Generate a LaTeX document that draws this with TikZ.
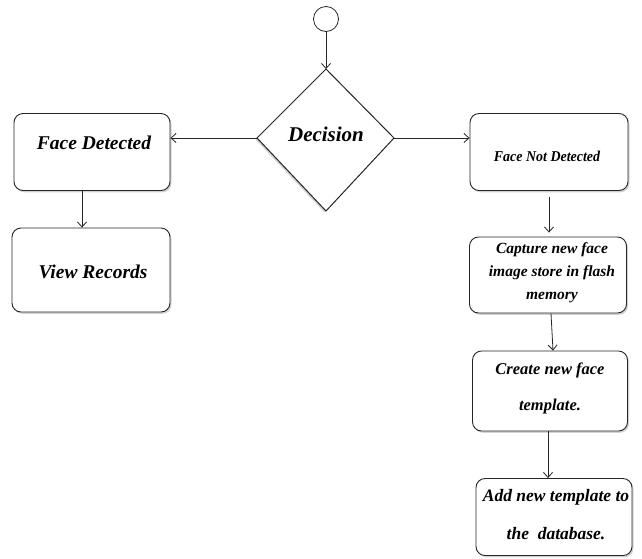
\documentclass[tikz,border=0pt]{standalone}
\usepackage{fontspec}
\setmainfont{Liberation Serif}
\usetikzlibrary{shapes.geometric,shadows,arrows.meta}
\begin{document}
\begin{tikzpicture}[x=1pt,y=-1pt,
  box/.style={draw=black!85,line width=0.9pt,rounded corners=9pt,fill=white,
    drop shadow={shadow xshift=1.5pt,shadow yshift=-1.8pt,opacity=0.35}},
  lbl/.style={font=\bfseries\itshape,align=center,inner sep=0pt},
  conn/.style={draw=black!85,line width=0.8pt,-{Straight Barb[length=5pt,width=9pt]}}]
\useasboundingbox (0,0) rectangle (642,558);
% start circle
\node[circle,draw=black!85,line width=0.8pt,minimum size=25pt,inner sep=0pt] (start) at (326,19) {};
% decision diamond
\coordinate (dt) at (326,69);
\coordinate (dl) at (257,138);
\coordinate (dr) at (394,138);
\coordinate (db) at (326,211);
\draw[draw=black!85,line width=1pt,fill=white,
  drop shadow={shadow xshift=-1.5pt,shadow yshift=-1.5pt,opacity=0.35}]
  (dt) -- (dr) -- (db) -- (dl) -- cycle;
\node[lbl,font=\bfseries\itshape\fontsize{21}{24}\selectfont] (dec) at (326,134) {Decision};
% boxes
\node[box,minimum width=156pt,minimum height=77pt] (fd) at (92,152) {};
\node[lbl,font=\bfseries\itshape\fontsize{19.5}{22}\selectfont] (fdt) at (94,143) {Face Detected};
\node[box,minimum width=158pt,minimum height=84pt] (vr) at (91,270) {};
\node[lbl,font=\bfseries\itshape\fontsize{19.5}{22}\selectfont] (vrt) at (93,272) {View Records};
\node[box,minimum width=158pt,minimum height=77pt] (fnd) at (549,152) {};
\node[lbl,font=\bfseries\itshape\fontsize{15}{18}\selectfont] (fndt) at (547,156) {\scalebox{0.93}[1]{Face Not Detected}};
\node[box,minimum width=157pt,minimum height=76pt] (cap) at (548,275) {};
\node[lbl,font=\bfseries\itshape\fontsize{15.5}{23}\selectfont] (capt) at (552,273) {Capture new face\\image store in flash\\memory};
\node[box,minimum width=155pt,minimum height=80pt] (cre) at (550,391) {};
\node[lbl,font=\bfseries\itshape\fontsize{16.5}{36}\selectfont] (cret) at (550,388) {Create new face\\template.};
\node[box,minimum width=156pt,minimum height=77pt] (add) at (554,517) {};
\node[lbl,font=\bfseries\itshape\fontsize{17.5}{38}\selectfont] (addt) at (556,515) {Add new template to\\the \ database.};
% connectors
\draw[conn] (start.south) -- (dt);
\draw[conn] (dl) -- (dl -| fd.east);
\draw[conn] (dr) -- (dr -| fnd.west);
\draw[conn] (fd.south -| 82,0) -- (vr.north -| 82,0);
\draw[conn] ([yshift=-6pt]fnd.south -| 549,0) -- ([yshift=4pt]cap.north -| 549,0);
\draw[conn] (cap.south -| 551,0) -- (cre.north -| 553,0);
\draw[conn] (cre.south -| 548,0) -- (add.north -| 548,0);
\end{tikzpicture}
\end{document}
